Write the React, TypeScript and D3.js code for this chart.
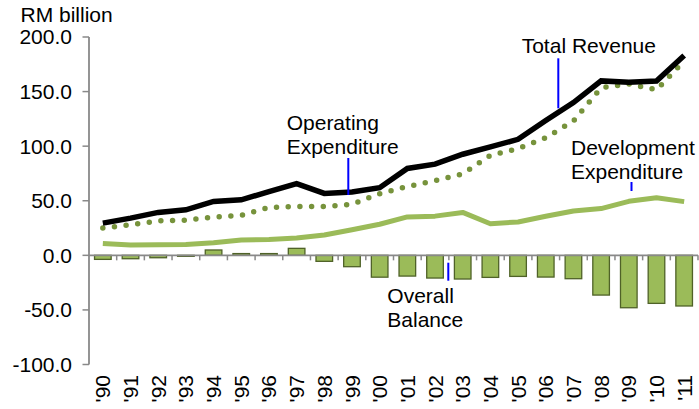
import React from "react";
import * as d3 from "d3";

const years = ["'90","'91","'92","'93","'94","'95","'96","'97","'98","'99","'00","'01","'02","'03","'04","'05","'06","'07","'08","'09","'10","'11"];
const totalRevenue = [29.5, 34.1, 39.3, 41.7, 49.4, 50.9, 58.3, 65.7, 56.7, 58.0, 62.0, 79.6, 83.5, 92.6, 99.4, 106.3, 123.5, 139.9, 159.8, 158.6, 159.7, 183.0];
const operatingExp = [25.0, 28.0, 31.5, 32.2, 35.1, 36.6, 43.9, 44.7, 44.7, 46.7, 56.5, 63.0, 68.4, 74.5, 91.5, 97.7, 107.7, 123.1, 153.5, 157.1, 151.6, 178.0];
const developmentExp = [10.8, 9.4, 9.7, 10.0, 11.6, 14.0, 14.6, 15.8, 18.6, 23.5, 28.5, 35.2, 35.9, 39.3, 28.9, 30.6, 35.8, 40.6, 42.8, 49.5, 52.8, 49.2];
const overallBalance = [-3.7, -3.1, -2.2, -0.9, 4.9, 1.6, 1.6, 6.4, -5.5, -10.4, -20.0, -19.0, -20.8, -21.7, -20.2, -19.3, -19.9, -21.4, -36.4, -48.0, -44.0, -46.4];
const yTicks = [200, 150, 100, 50, 0, -50, -100];

const FONT = "'Liberation Sans', Arial, sans-serif";
const FS = 21;

export default function App() {
  const xb = d3.scaleBand<string>().domain(years).range([89, 698]);
  const y = d3.scaleLinear().domain([-100, 200]).range([364.5, 37]);
  const cx = (i: number) => (xb(years[i]) as number) + xb.bandwidth() / 2;
  const line = (vals: number[]) =>
    d3.line<number>().x((_, i) => cx(i)).y((v) => y(v))(vals) as string;
  const axisColor = "#898989";
  const y0 = y(0);
  const barW = xb.bandwidth() * 0.6;

  return (
    <svg width={699} height={409} style={{ position: "absolute", left: 0, top: 0 }} fontFamily={FONT}>
      <rect width={699} height={409} fill="#fff" />
      <text x={20.5} y={21.7} fontSize={FS} fill="#000">RM billion</text>
      {yTicks.map((t) => (
        <g key={t}>
          <line x1={82.5} x2={89} y1={y(t)} y2={y(t)} stroke={axisColor} strokeWidth={1.5} />
          <text x={72} y={y(t)} dy="0.35em" textAnchor="end" fontSize={FS} fill="#000">
            {t.toFixed(1)}
          </text>
        </g>
      ))}
      {overallBalance.map((v, i) => {
        const c = cx(i);
        return (
          <rect key={i} x={c - barW / 2} y={Math.min(y(v), y0)} width={barW}
            height={Math.abs(y(v) - y0)} fill="#9bbb59" stroke="#4f6228" strokeWidth={1.3} />
        );
      })}
      <line x1={89} x2={89} y1={y(200)} y2={y(-100)} stroke={axisColor} strokeWidth={1.8} />
      <line x1={89} x2={698} y1={y0} y2={y0} stroke={axisColor} strokeWidth={1.8} />
      {years.map((yr) => (
        <line key={yr} x1={(xb(yr) as number) + xb.bandwidth()} x2={(xb(yr) as number) + xb.bandwidth()}
          y1={y0} y2={y0 + 5} stroke={axisColor} strokeWidth={1.5} />
      ))}
      {years.map((yr, i) => (
        <text key={yr} transform={`translate(${cx(i)},${375}) rotate(-90)`} dy="0.36em"
          textAnchor="end" fontSize={FS} fill="#000">{yr}</text>
      ))}
      <path d={line(developmentExp)} fill="none" stroke="#9bbb59" strokeWidth={5} strokeLinejoin="round" />
      <path d={line(operatingExp)} fill="none" stroke="#77933c" strokeWidth={5.5}
        strokeDasharray="0 11.7" strokeLinecap="round" />
      <path d={line(totalRevenue)} fill="none" stroke="#000" strokeWidth={5.5} strokeLinejoin="miter" />
      <text x={286.7} y={130} fontSize={FS} fill="#000">Operating</text>
      <text x={286.7} y={154.3} fontSize={FS} fill="#000">Expenditure</text>
      <line x1={348.3} x2={348.3} y1={158} y2={195} stroke="#0000ff" strokeWidth={2} />
      <text x={521.7} y={52.7} fontSize={FS} fill="#000">Total Revenue</text>
      <line x1={558.3} x2={558.3} y1={58.3} y2={108.3} stroke="#0000ff" strokeWidth={2} />
      <text x={571} y={155} fontSize={FS} fill="#000">Development</text>
      <text x={571} y={178.8} fontSize={FS} fill="#000">Expenditure</text>
      <line x1={631.5} x2={631.5} y1={182} y2={191} stroke="#0000ff" strokeWidth={2} />
      <text x={387.3} y={302.7} fontSize={FS} fill="#000">Overall</text>
      <text x={387.3} y={326.7} fontSize={FS} fill="#000">Balance</text>
      <line x1={448.3} x2={448.3} y1={262.7} y2={280.7} stroke="#0000ff" strokeWidth={2} />
    </svg>
  );
}
